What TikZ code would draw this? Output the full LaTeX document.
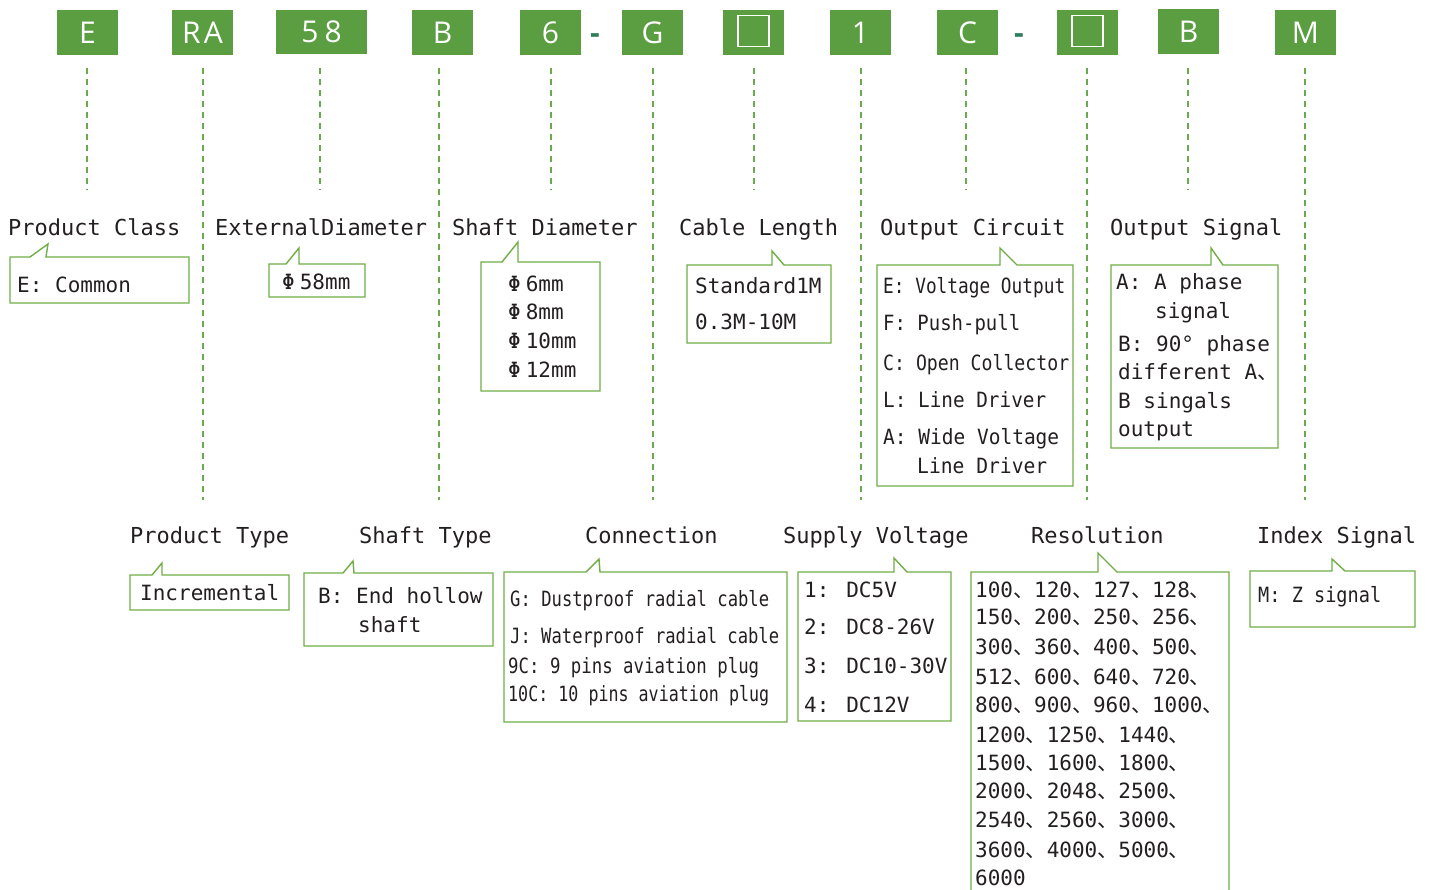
\documentclass[tikz,border=0pt]{standalone}
\usepackage{fontspec}
\usepackage{graphicx}
\setmainfont{DejaVu Sans}
\newfontfamily\monof{DejaVu Sans Mono}
\newfontfamily\cjkf{Noto Sans CJK SC}
\newfontfamily\codef{Open Sans}
\newcommand{\dun}{{\cjkf 、}}
\newcommand{\fitw}[2]{\resizebox{#1pt}{\height}{#2}}
\newcommand{\phig}{Φ\kern5pt}
\definecolor{codegreen}{HTML}{5B9E42}
\definecolor{linegreen}{HTML}{70AD47}
\definecolor{dashgreen}{HTML}{6AAA4E}
\definecolor{txt}{HTML}{231F20}
\definecolor{hyph}{HTML}{2E7D5B}
\newcommand{\callout}[8]{\draw[callline] (#1,#2) -- (#5,#2) -- (#6,#7) -- (#8,#2) -- (#3,#2) -- (#3,#4) -- (#1,#4) -- cycle;}
\tikzset{
  codebox/.style={fill=codegreen, minimum width=61, minimum height=45, inner sep=0, text=white, font=\codef\fontsize{30}{30}\selectfont},
  sqbox/.style={draw=white, line width=1.6pt, minimum width=31, minimum height=31, inner sep=0},
  hyphen/.style={anchor=base, inner sep=0, text=hyph, font=\codef\bfseries\fontsize{30}{30}\selectfont},
  dashline/.style={draw=dashgreen, line width=1.2pt, dash pattern=on 6pt off 5pt},
  callline/.style={draw=linegreen, line width=1.4pt, line join=miter},
  head/.style={anchor=base west, inner sep=0, text=txt, font=\monof\fontsize{22}{22}\selectfont},
  body/.style={anchor=base west, inner sep=0, text=txt, font=\monof\fontsize{21}{21}\selectfont}
}
\begin{document}
\begin{tikzpicture}[x=1pt,y=-1pt]
\useasboundingbox (0,0) rectangle (1429,889);
% code boxes
\node[codebox] (c1) at (87.5,32.5) {E};
\node[codebox] (c2) at (202.5,32.5) {R\kern3pt A};
\node[codebox, minimum width=91, minimum height=44] (c3) at (321.5,32) {5\kern6pt 8};
\node[codebox] (c4) at (442.5,32.5) {B};
\node[codebox] (c5) at (550.5,32.5) {6};
\node[hyphen] (h1) at (595,43) {-};
\node[codebox] (c6) at (652.5,32.5) {G};
\node[codebox] (c7) at (753.5,32.5) {};
\node[sqbox] (q1) at (753.5,31) {};
\node[codebox] (c8) at (860.5,32.5) {1};
\node[codebox] (c9) at (967.5,32.5) {C};
\node[hyphen] (h2) at (1019,43) {-};
\node[codebox] (c10) at (1087.5,32.5) {};
\node[sqbox] (q2) at (1087.5,31) {};
\node[codebox] (c11) at (1188.5,31.5) {B};
\node[codebox] (c12) at (1305.5,32.5) {M};
% dashed leaders
\foreach \i/\x/\e in {1/87/190, 2/203/500, 3/320/190, 4/439/500, 5/551/190, 6/653/500, 7/754/190, 8/861/500, 9/966/190, 10/1087/500, 11/1188/190, 12/1305/500}{
  \coordinate (s\i) at (\x,68);
  \coordinate (e\i) at (\x,\e);
  \draw[dashline] (s\i) -- (e\i);
}
% headers
\node[head] (hPC) at (8,235) {Product Class};
\node[head] (hED) at (215,235) {ExternalDiameter};
\node[head] (hSD) at (452,235) {Shaft Diameter};
\node[head] (hCL) at (679,235) {Cable Length};
\node[head] (hOC) at (880,235) {Output Circuit};
\node[head] (hOS) at (1110,235) {Output Signal};
\node[head] (hPT) at (130,543) {Product Type};
\node[head] (hST) at (359,543) {Shaft Type};
\node[head] (hCN) at (585,543) {Connection};
\node[head] (hSV) at (783,543) {Supply Voltage};
\node[head] (hRS) at (1031,543) {Resolution};
\node[head] (hIS) at (1257,543) {Index Signal};
% callouts
\callout{10}{257}{189}{303}{30}{48}{244}{46}
\callout{269}{264}{365}{297}{286}{299}{248}{299}
\callout{481}{262}{600}{391}{502}{518}{242}{518}
\callout{687}{265}{831}{343}{772}{772}{251}{784}
\callout{877}{265}{1073}{486}{1000}{1000}{248}{1017}
\callout{1111}{265}{1278}{448}{1211}{1211}{248}{1223}
\callout{130}{575}{289}{610}{152}{162}{563}{162}
\callout{304}{573}{493}{646}{343}{353}{561}{354}
\callout{504}{572}{787}{722}{586}{599}{559}{600}
\callout{798}{572}{951}{721}{894}{894}{558}{907}
\draw[callline] (971,895) -- (971,572) -- (1098,572) -- (1098,553) -- (1117,572) -- (1229,572) -- (1229,895);
\callout{1250}{571}{1415}{627}{1332}{1332}{559}{1345}
% box texts
\node[body] (tPC) at (17,292) {E: Common};
\node[body] (tED) at (282,289) {\phig 58mm};
\node[body] (tSD1) at (508,291) {\phig 6mm};
\node[body] (tSD2) at (508,319) {\phig 8mm};
\node[body] (tSD3) at (508,348) {\phig 10mm};
\node[body] (tSD4) at (508,377) {\phig 12mm};
\node[body] (tCL1) at (695,293) {Standard1M};
\node[body] (tCL2) at (695,329) {0.3M-10M};
\node[body] (tOC1) at (883,293) {\fitw{182}{E: Voltage Output}};
\node[body] (tOC2) at (883,330) {\fitw{137}{F: Push-pull}};
\node[body] (tOC3) at (883,370) {\fitw{186}{C: Open Collector}};
\node[body] (tOC4) at (883,407) {\fitw{163}{L: Line Driver}};
\node[body] (tOC5) at (883,444) {\fitw{176}{A: Wide Voltage}};
\node[body] (tOC6) at (917,473) {\fitw{130}{Line Driver}};
\node[body] (tOS1) at (1116,289) {A: A phase};
\node[body] (tOS2) at (1155,318) {signal};
\node[body] (tOS3) at (1118,351) {B: 90° phase};
\node[body] (tOS4) at (1118,379) {different A\dun};
\node[body] (tOS5) at (1118,408) {B singals};
\node[body] (tOS6) at (1118,436) {output};
\node[body] (tPT) at (140,600) {Incremental};
\node[body] (tST1) at (318,603) {B: End hollow};
\node[body] (tST2) at (358,632) {shaft};
\node[body] (tCN1) at (510,606) {\fitw{259}{G: Dustproof radial cable}};
\node[body] (tCN2) at (510,643) {\fitw{269}{J: Waterproof radial cable}};
\node[body] (tCN3) at (508,673) {\fitw{251}{9C:  9 pins aviation plug}};
\node[body] (tCN4) at (508,701) {\fitw{261}{10C: 10 pins aviation plug}};
\node[body] (tSV1) at (804,597) {1: DC5V};
\node[body] (tSV2) at (804,634) {2: DC8-26V};
\node[body] (tSV3) at (804,673) {3: DC10-30V};
\node[body] (tSV4) at (804,712) {4: DC12V};
\node[body] (tR1) at (975,597) {100\dun120\dun127\dun128\dun};
\node[body] (tR2) at (975,624) {150\dun200\dun250\dun256\dun};
\node[body] (tR3) at (975,654) {300\dun360\dun400\dun500\dun};
\node[body] (tR4) at (975,684) {512\dun600\dun640\dun720\dun};
\node[body] (tR5) at (975,712) {800\dun900\dun960\dun1000\dun};
\node[body] (tR6) at (975,742) {1200\dun1250\dun1440\dun};
\node[body] (tR7) at (975,770) {1500\dun1600\dun1800\dun};
\node[body] (tR8) at (975,798) {2000\dun2048\dun2500\dun};
\node[body] (tR9) at (975,827) {2540\dun2560\dun3000\dun};
\node[body] (tR10) at (975,857) {3600\dun4000\dun5000\dun};
\node[body] (tR11) at (975,885) {6000};
\node[body] (tIS) at (1258,602) {\fitw{123}{M: Z signal}};
\end{tikzpicture}
\end{document}
